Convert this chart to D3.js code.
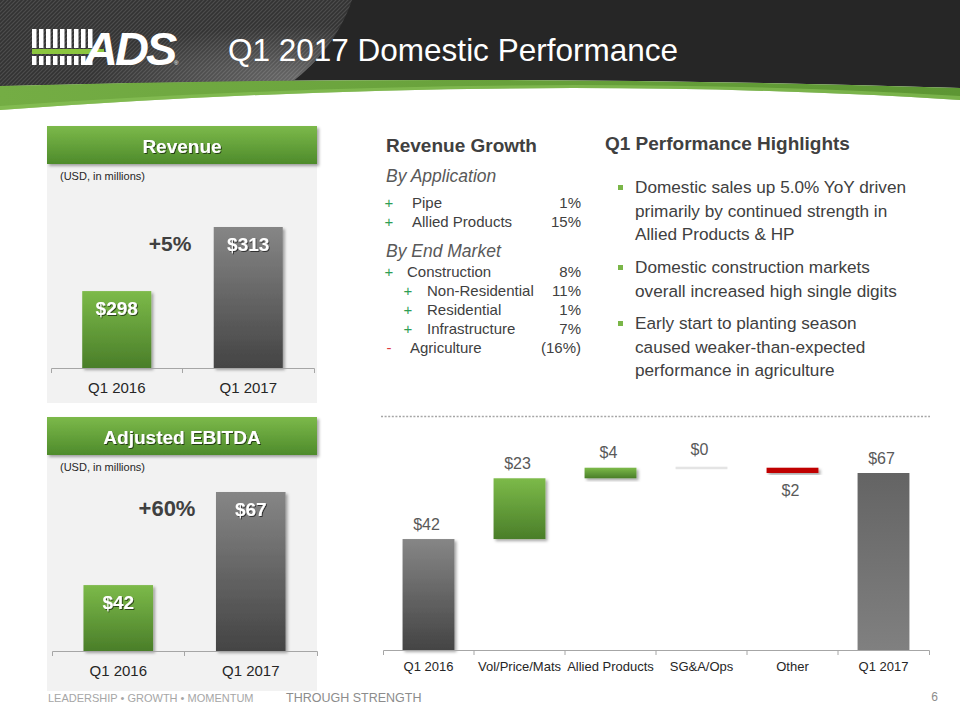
<!DOCTYPE html>
<html><head><meta charset="utf-8">
<script src="https://cdn.jsdelivr.net/npm/d3@7"></script>
<style>
body{margin:0;background:#fff;}
svg{display:block;font-family:"Liberation Sans",Arial,sans-serif;}
</style></head><body>
<svg id="c" width="960" height="720"></svg>
<script>
// ---------------- data ----------------
const slideTitle = "Q1 2017 Domestic Performance";
const revCategories = ["Q1 2016", "Q1 2017"];
const revValues = [298, 313];
const revChange = "+5%";
const ebitdaCategories = ["Q1 2016", "Q1 2017"];
const ebitdaValues = [42, 67];
const ebitdaChange = "+60%";
const bridgeCategories = ["Q1 2016", "Vol/Price/Mats", "Allied Products", "SG&A/Ops", "Other", "Q1 2017"];
const bridgeValues = [42, 23, 4, 0, -2, 67];
const bridgeKinds = ["total", "delta", "delta", "delta", "delta", "total"];
const growthByApplication = [["+", "Pipe", "1%", 0], ["+", "Allied Products", "15%", 0]];
const growthByEndMarket = [["+", "Construction", "8%", 0], ["+", "Non-Residential", "11%", 1], ["+", "Residential", "1%", 1], ["+", "Infrastructure", "7%", 1], ["-", "Agriculture", "(16%)", 0]];
const highlights = [
  ["Domestic sales up 5.0% YoY driven", "primarily by continued strength in", "Allied Products & HP"],
  ["Domestic construction markets", "overall increased high single digits"],
  ["Early start to planting season", "caused weaker-than-expected", "performance in agriculture"]
];
const footerLeft = "LEADERSHIP \u2022 GROWTH \u2022 MOMENTUM";
const footerMid = "THROUGH STRENGTH";
const pageNumber = "6";

// ---------------- setup ----------------
const svg = d3.select("#c");
const defs = svg.append("defs");
function vGrad(id, stops) {
  const g = defs.append("linearGradient").attr("id", id).attr("x1", 0).attr("y1", 0).attr("x2", 0).attr("y2", 1);
  stops.forEach(([o, c]) => g.append("stop").attr("offset", o).attr("stop-color", c));
}
vGrad("gGreen", [[0, "#7cba49"], [1, "#4a7e29"]]);
vGrad("gGray", [[0, "#868686"], [1, "#444444"]]);
vGrad("gGray2", [[0, "#646464"], [1, "#808080"]]);
vGrad("gHead", [[0, "#7cb94a"], [1, "#4e8b2b"]]);
const hg = defs.append("linearGradient").attr("id", "gBand").attr("x1", 0).attr("x2", 1);
hg.append("stop").attr("offset", 0).attr("stop-color", "#74ad44");
hg.append("stop").attr("offset", 1).attr("stop-color", "#5d9633");
const sheen = defs.append("radialGradient").attr("id", "gSheen").attr("cx", 0.85).attr("cy", 0.9).attr("r", 0.6);
sheen.append("stop").attr("offset", 0).attr("stop-color", "#ffffff").attr("stop-opacity", 0.25);
sheen.append("stop").attr("offset", 1).attr("stop-color", "#ffffff").attr("stop-opacity", 0);

const pat = defs.append("pattern").attr("id", "tex").attr("width", 4).attr("height", 4).attr("patternUnits", "userSpaceOnUse");
pat.append("rect").attr("width", 4).attr("height", 4).attr("fill", "#333333");
pat.append("path").attr("d", "M0,4 L4,0 M-1,1 L1,-1 M3,5 L5,3").attr("stroke", "#4d4d4d").attr("stroke-width", 1.2);

const sh = defs.append("filter").attr("id", "shadow").attr("x", "-20%").attr("y", "-20%").attr("width", "150%").attr("height", "150%");
sh.append("feDropShadow").attr("dx", 2).attr("dy", 2).attr("stdDeviation", 1.5).attr("flood-color", "#000").attr("flood-opacity", 0.35);
const tsh = defs.append("filter").attr("id", "tshadow");
tsh.append("feDropShadow").attr("dx", 1).attr("dy", 1).attr("stdDeviation", 0.6).attr("flood-color", "#000").attr("flood-opacity", 0.6);

// ---------------- header ----------------
svg.append("path").attr("d", "M0,0 H960 V88 Q480,73 0,86 Z").attr("fill", "#262626");
svg.append("path").attr("d", "M0,0 H352 C340,35 318,62 292,82 Q140,82 0,86 Z").attr("fill", "url(#tex)");
svg.append("path").attr("d", "M0,0 H352 C340,35 318,62 292,82 Q140,82 0,86 Z").attr("fill", "url(#gSheen)");
svg.append("path").attr("d", "M0,86 Q480,73 960,88 V100 Q520,72 0,110 Z").attr("fill", "url(#gBand)");
svg.append("path").attr("d", "M0,106 Q520,70 960,96 V100 Q520,72 0,110 Z").attr("fill", "#8cc45a").attr("opacity", 0.6);

// logo
const logo = svg.append("g");
d3.range(9).forEach(i => {
  logo.append("rect").attr("x", 32 + i * 7).attr("y", 29).attr("width", 4.5).attr("height", 19).attr("fill", "#fff");
  logo.append("rect").attr("x", 32 + i * 7).attr("y", 56).attr("width", 4.5).attr("height", 9).attr("fill", "#fff");
});
logo.append("rect").attr("x", 32).attr("y", 49).attr("width", 72).attr("height", 5).attr("fill", "#8cc63f");
logo.append("text").attr("x", 84).attr("y", 65).attr("font-size", 47).attr("font-weight", "bold").attr("font-style", "italic")
  .attr("letter-spacing", -3).attr("fill", "#fff").text("ADS");
logo.append("text").attr("x", 174).attr("y", 65).attr("font-size", 6).attr("fill", "#fff").text("\u00ae");

svg.append("text").attr("x", 228).attr("y", 61).attr("font-size", 31.5).attr("fill", "#ffffff").text(slideTitle);

// ---------------- side panels ----------------
function barPanel(cfg) {
  const g = svg.append("g");
  g.append("rect").attr("x", cfg.x0).attr("y", cfg.top).attr("width", cfg.x1 - cfg.x0).attr("height", cfg.bottom - cfg.top).attr("fill", "#f2f2f2");
  g.append("rect").attr("x", cfg.x0).attr("y", cfg.top).attr("width", cfg.x1 - cfg.x0).attr("height", 38)
    .attr("fill", "url(#gHead)").attr("filter", "url(#shadow)");
  g.append("text").attr("x", (cfg.x0 + cfg.x1) / 2).attr("y", cfg.top + 27).attr("text-anchor", "middle")
    .attr("font-size", 19).attr("font-weight", "bold").attr("fill", "#fff").attr("filter", "url(#tshadow)").text(cfg.title);
  g.append("text").attr("x", cfg.x0 + 13).attr("y", cfg.top + 54).attr("font-size", 11).attr("fill", "#262626").text("(USD, in millions)");

  const x = d3.scaleBand().domain(cfg.cats).range([cfg.ax0, cfg.ax1]).paddingInner(0.475).paddingOuter(0.2375);
  const y = d3.scaleLinear().domain(cfg.domain).range(cfg.yrange);
  const fills = ["url(#gGreen)", "url(#gGray)"];
  g.selectAll(".bar").data(cfg.vals).join("rect")
    .attr("x", (d, i) => x(cfg.cats[i])).attr("width", x.bandwidth())
    .attr("y", d => y(d)).attr("height", d => y(cfg.domain[0]) - y(d))
    .attr("fill", (d, i) => fills[i]).attr("filter", "url(#shadow)");
  g.selectAll(".lbl").data(cfg.vals).join("text")
    .attr("x", (d, i) => x(cfg.cats[i]) + x.bandwidth() / 2).attr("y", d => y(d) + 24)
    .attr("text-anchor", "middle").attr("font-size", 19).attr("font-weight", "bold").attr("fill", "#fff")
    .attr("filter", "url(#tshadow)").text(d => "$" + d);
  const base = y(cfg.domain[0]);
  const ax = g.append("g").attr("transform", `translate(0,${base})`)
    .call(d3.axisBottom(x).tickSize(0).tickSizeOuter(5));
  ax.select(".domain").attr("stroke", "#a6a6a6");
  ax.selectAll("text").attr("y", 25).attr("dy", 0).attr("font-size", 15).attr("font-family", "Liberation Sans, Arial, sans-serif").attr("fill", "#262626");
  cfg.cats.slice(1).forEach(c => {
    const bx = x(c) - x.step() * x.paddingInner() / 2;
    g.append("line").attr("x1", bx).attr("x2", bx).attr("y1", base).attr("y2", base + 5).attr("stroke", "#a6a6a6");
  });
  g.append("text").attr("x", cfg.chgX).attr("y", y(cfg.vals[1]) + 24).attr("text-anchor", "middle")
    .attr("font-size", cfg.chgSize).attr("font-weight", "bold").attr("fill", "#404040").text(cfg.change);
}
barPanel({title: "Revenue", cats: revCategories, vals: revValues, change: revChange, chgX: 170, chgSize: 21,
  x0: 47, x1: 317, top: 126, bottom: 403, ax0: 51, ax1: 314, domain: [280, 313], yrange: [368, 227]});
barPanel({title: "Adjusted EBITDA", cats: ebitdaCategories, vals: ebitdaValues, change: ebitdaChange, chgX: 167, chgSize: 22,
  x0: 47, x1: 317, top: 417, bottom: 691, ax0: 52, ax1: 317, domain: [24.3, 67], yrange: [651, 492]});

// ---------------- revenue growth text ----------------
const tg = svg.append("g").attr("fill", "#404040");
tg.append("text").attr("x", 386).attr("y", 152).attr("font-size", 19).attr("font-weight", "bold").text("Revenue Growth");
tg.append("text").attr("x", 386).attr("y", 182).attr("font-size", 17.5).attr("font-style", "italic").attr("fill", "#595959").text("By Application");
tg.append("text").attr("x", 386).attr("y", 257).attr("font-size", 17.5).attr("font-style", "italic").attr("fill", "#595959").text("By End Market");
function growthRows(rows, y0) {
  rows.forEach((r, i) => {
    const y = y0 + i * 19;
    const signX = r[3] ? 408 : 389;
    const labX = r[3] ? 427 : (r[1] === "Construction" ? 407 : (r[0] === "-" ? 410 : 412));
    tg.append("text").attr("x", signX).attr("y", y).attr("text-anchor", "middle").attr("font-size", 15)
      .attr("fill", r[0] === "+" ? "#2e9e55" : "#e0393e").text(r[0]);
    tg.append("text").attr("x", labX).attr("y", y).attr("font-size", 15).text(r[1]);
    tg.append("text").attr("x", 581).attr("y", y).attr("text-anchor", "end").attr("font-size", 15).text(r[2]);
  });
}
growthRows(growthByApplication, 208);
growthRows(growthByEndMarket, 277);

// ---------------- highlights ----------------
const hgx = svg.append("g").attr("fill", "#404040");
hgx.append("text").attr("x", 605).attr("y", 150).attr("font-size", 19).attr("font-weight", "bold").text("Q1 Performance Highlights");
const hlY = [193, 273, 329];
highlights.forEach((lines, i) => {
  hgx.append("rect").attr("x", 618).attr("y", hlY[i] - 8).attr("width", 5).attr("height", 5).attr("fill", "#7ab648");
  lines.forEach((ln, j) => {
    hgx.append("text").attr("x", 635).attr("y", hlY[i] + j * 23.7).attr("font-size", 17.2).text(ln);
  });
});

// ---------------- dotted separator ----------------
svg.append("line").attr("x1", 381).attr("x2", 930).attr("y1", 416.5).attr("y2", 416.5)
  .attr("stroke", "#a6a6a6").attr("stroke-width", 1.6).attr("stroke-dasharray", "2,1.6");

// ---------------- waterfall ----------------
const wf = svg.append("g");
const bx = d3.scaleBand().domain(bridgeCategories).range([383, 929]).paddingInner(0.43).paddingOuter(0.215);
const by = d3.scaleLinear().domain([0, 67]).range([650, 473]);
let run = 0;
const steps = bridgeValues.map((v, i) => {
  let s, e;
  if (bridgeKinds[i] === "total") { s = 0; e = v; run = v; }
  else { s = run; e = run + v; run = e; }
  return {cat: bridgeCategories[i], v, s, e, kind: bridgeKinds[i], i};
});
const fillFor = d => d.kind === "total" ? (d.i === 0 ? "url(#gGray)" : "url(#gGray2)") : (d.v > 0 ? "url(#gGreen)" : (d.v < 0 ? "#c00000" : "#e4e4e4"));
wf.selectAll(".wb").data(steps).join("rect")
  .attr("x", d => bx(d.cat)).attr("width", bx.bandwidth())
  .attr("y", d => d.v === 0 ? by(d.e) - 1 : by(Math.max(d.s, d.e)))
  .attr("height", d => d.v === 0 ? 2.5 : Math.abs(by(d.s) - by(d.e)))
  .attr("fill", fillFor)
  .attr("filter", d => (d.v === 0 || d.i === 5) ? null : "url(#shadow)");
wf.selectAll(".wl").data(steps).join("text")
  .attr("x", d => bx(d.cat) + bx.bandwidth() / 2 - 2)
  .attr("y", d => d.v < 0 ? by(Math.min(d.s, d.e)) + 23 : by(Math.max(d.s, d.e)) - (d.v === 0 ? 13 : 9.5))
  .attr("text-anchor", "middle").attr("font-size", 16).attr("fill", "#595959")
  .text(d => "$" + Math.abs(d.v));
const wax = wf.append("g").attr("transform", "translate(0,650)").call(d3.axisBottom(bx).tickSize(0).tickSizeOuter(5));
wax.select(".domain").attr("stroke", "#a6a6a6");
wax.selectAll("text").attr("y", 21).attr("dy", 0).attr("font-size", 13).attr("font-family", "Liberation Sans, Arial, sans-serif").attr("fill", "#262626");
bridgeCategories.slice(1).forEach(c => {
  const xx = bx(c) - bx.step() * bx.paddingInner() / 2;
  wf.append("line").attr("x1", xx).attr("x2", xx).attr("y1", 650).attr("y2", 655).attr("stroke", "#a6a6a6");
});

// ---------------- footer ----------------
svg.append("text").attr("x", 48).attr("y", 702).attr("font-size", 11).attr("fill", "#a6a6a6").text(footerLeft);
svg.append("text").attr("x", 286).attr("y", 702).attr("font-size", 12.5).attr("fill", "#8c8c8c").text(footerMid);
svg.append("text").attr("x", 938).attr("y", 701).attr("text-anchor", "end").attr("font-size", 12).attr("fill", "#8c8c8c").text(pageNumber);
</script>
</body></html>
